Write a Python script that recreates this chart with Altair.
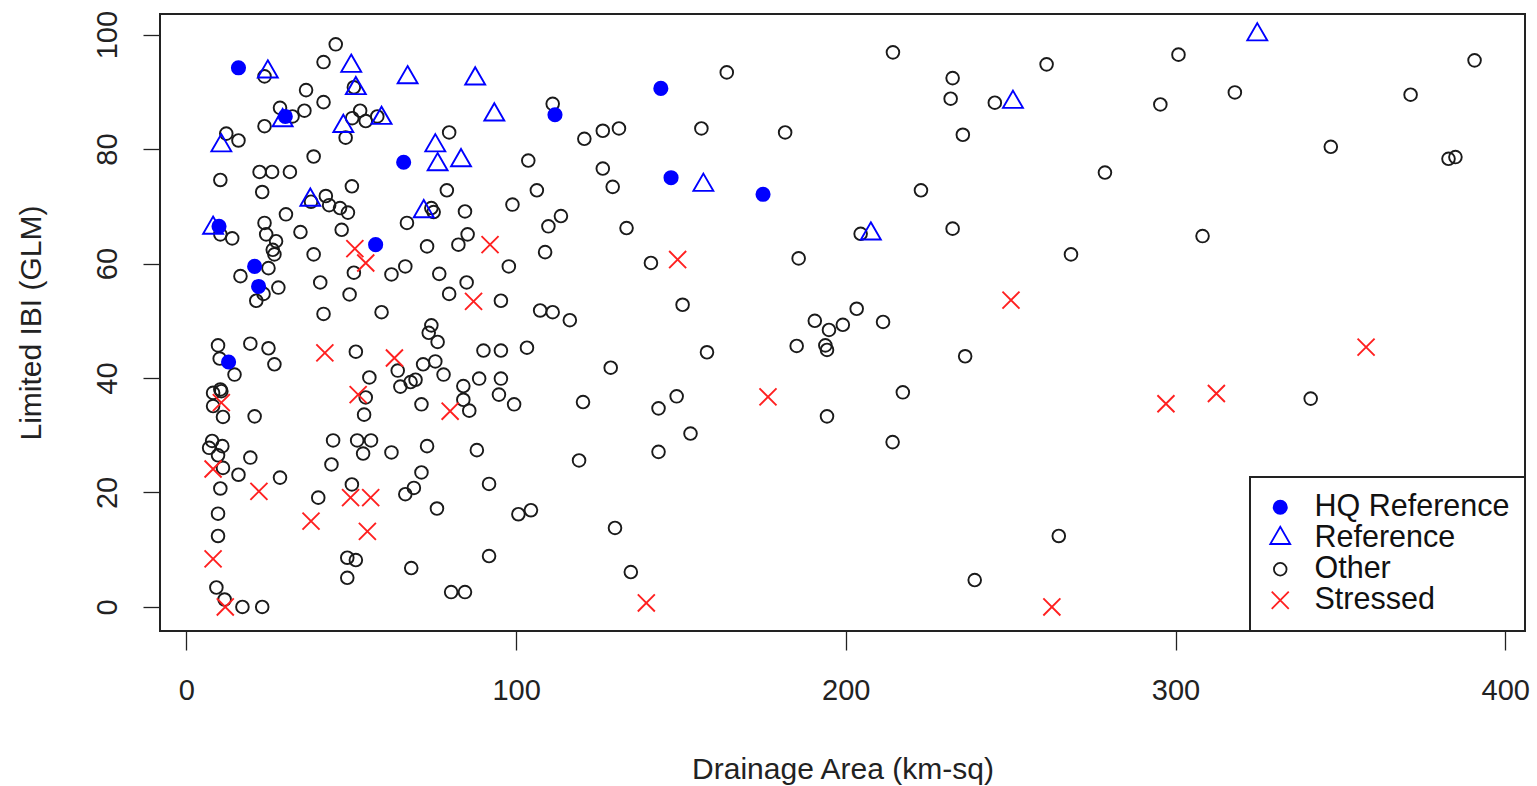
import altair as alt
import pandas as pd

# ---------------- data ----------------
types = ["HQ Reference", "Reference", "Other", "Stressed"]

hq_x = [15.8, 30.0, 9.9, 20.7, 21.9, 12.8, 57.4, 65.9, 111.8, 143.9, 147.0, 174.9]
hq_y = [94.2, 85.7, 66.5, 59.5, 56.0, 42.8, 63.3, 77.7, 86.0, 90.6, 75.0, 72.1]

ref_x = [24.7, 50.0, 51.4, 29.2, 47.6, 10.6, 37.6, 8.1, 67.1, 87.6,
         59.2, 93.4, 75.5, 76.2, 83.3, 72.0, 156.8, 207.6, 250.7, 324.8]
ref_y = [93.5, 94.5, 90.6, 85.0, 84.0, 80.6, 71.1, 66.2, 92.5, 92.3,
         85.4, 86.0, 80.6, 77.3, 78.0, 69.1, 73.7, 65.2, 88.2, 100.0]

str_x = [51.1, 54.4, 42.0, 52.1, 10.6, 8.1, 22.0, 8.1, 11.8, 37.8, 49.8, 55.9, 54.9,
         92.1, 87.1, 63.1, 80.0, 149.0, 176.4, 139.5, 250.1, 297.1, 312.4, 357.8, 262.5]
str_y = [62.6, 60.1, 44.4, 37.1, 35.7, 24.1, 20.2, 8.4, 0.0, 15.0, 19.1, 19.1, 13.2,
         63.3, 53.4, 43.5, 34.2, 60.7, 36.7, 0.7, 53.6, 35.5, 37.3, 45.4, 0.0]

oth_x = [23.7, 45.3, 41.6, 50.8, 36.3, 41.6, 28.4, 32.2, 35.8, 50.3, 52.7, 54.4, 48.3,
         23.7, 12.1, 15.8, 38.6, 22.2, 26.0, 31.4, 10.3, 50.2, 23.0, 37.8, 42.3, 43.3,
         46.6, 49.0, 30.2, 23.7,
         57.9, 111.1, 79.7, 103.7, 79.0, 106.3, 98.9, 74.3, 75.0, 84.5, 66.9, 113.6, 109.8,
         10.3, 13.9, 24.2, 27.2, 26.2, 26.7, 34.6, 38.6, 47.1, 24.9, 16.4, 23.4, 21.2, 27.9,
         40.6, 50.8, 49.5, 41.6, 9.6, 10.1, 14.6, 19.4, 24.9, 26.7, 51.4, 54.4, 53.9, 55.5,
         8.1, 10.3, 10.6, 8.1, 11.1, 20.7,
         73.0, 82.5, 85.3, 108.8, 97.8, 66.4, 62.2, 76.7, 85.0, 79.7, 95.4, 107.3, 111.1,
         116.3, 59.2, 74.3, 73.5, 76.2, 90.1, 95.4, 103.3, 64.1, 71.8, 75.5, 78.0, 64.9,
         68.0, 69.5, 88.8, 95.4, 94.8, 84.0, 84.0, 85.8, 71.3, 99.4,
         7.8, 6.9, 10.9, 9.6, 19.4, 11.1, 15.8, 28.4, 10.3, 9.6, 9.6, 9.1, 11.6, 17.0, 23.0,
         44.5, 51.8, 53.6, 56.0, 44.0, 50.2, 40.0, 48.8, 51.4, 48.8,
         62.2, 73.0, 88.1, 71.3, 66.4, 69.0, 91.8, 76.0, 100.7, 104.5, 91.8, 68.2, 80.3, 84.5,
         214.3, 163.9, 120.7, 126.3, 131.2, 156.2, 181.6, 126.3, 129.3, 133.5, 204.5, 140.9,
         185.7, 150.5, 203.3,
         190.6, 194.9, 199.1, 211.3, 185.1, 193.8, 194.3, 157.9, 128.7, 217.3, 120.3, 148.7,
         143.2, 194.3, 152.9, 214.2, 143.2, 119.1, 130.0, 134.8,
         300.9, 390.7, 260.9, 232.4, 231.8, 245.2, 295.4, 318.0, 371.3, 235.5, 347.1, 382.8,
         384.9, 278.6, 222.8, 232.4, 308.2, 268.3,
         236.2, 341.0, 264.6, 239.1]
oth_y = [92.7, 98.3, 95.2, 90.8, 90.3, 88.2, 87.2, 85.7, 86.7, 85.4, 86.7, 84.9, 82.0,
         84.0, 82.7, 81.5, 78.7, 76.0, 76.0, 76.0, 74.6, 73.5, 72.5, 70.8, 71.8, 70.2,
         69.7, 68.9, 68.6, 67.1,
         85.7, 87.9, 82.9, 78.0, 72.8, 72.8, 70.3, 69.7, 69.0, 69.1, 67.1, 68.3, 66.5,
         65.1, 64.4, 65.1, 63.9, 62.4, 61.6, 65.5, 61.6, 65.9, 59.2, 57.8, 54.7, 53.5, 55.8,
         56.7, 58.4, 54.6, 51.2, 45.7, 43.4, 40.6, 46.0, 45.2, 42.4, 44.6, 36.6, 33.6, 40.1,
         37.4, 38.0, 37.7, 35.1, 33.2, 33.3,
         63.0, 63.3, 65.1, 62.0, 59.5, 59.5, 58.1, 58.2, 56.7, 54.7, 53.5, 51.8, 51.5,
         50.1, 51.5, 49.2, 47.9, 46.3, 44.8, 44.8, 45.3, 41.3, 42.4, 42.9, 40.6, 38.5,
         39.3, 39.7, 39.9, 39.9, 37.1, 38.6, 36.2, 34.3, 35.4, 35.4,
         29.0, 27.8, 28.1, 26.5, 26.1, 24.3, 23.1, 22.6, 20.7, 16.3, 12.4, 3.4, 1.3, 0.0, 0.0,
         29.1, 29.1, 26.8, 29.1, 24.9, 21.4, 19.1, 8.6, 8.2, 5.1,
         27.0, 28.1, 27.4, 23.5, 19.7, 20.8, 21.5, 17.2, 16.2, 16.9, 8.9, 6.8, 2.6, 2.6,
         96.9, 93.4, 81.8, 83.2, 83.6, 83.6, 82.9, 76.6, 73.4, 66.2, 65.2, 60.1,
         60.9, 52.8, 52.1,
         50.0, 48.4, 49.3, 49.8, 45.6, 45.7, 44.9, 44.5, 41.8, 37.5, 35.8, 36.8,
         34.7, 33.3, 30.3, 28.8, 27.1, 25.6, 13.8, 6.1,
         96.5, 95.5, 94.8, 92.4, 88.8, 88.1, 87.8, 89.9, 89.5, 82.5, 80.4, 78.3,
         78.6, 75.9, 72.8, 66.1, 64.8, 61.6,
         43.8, 36.4, 12.4, 4.7]

x_ticks = [0, 100, 200, 300, 400]
y_ticks = [0, 20, 40, 60, 80, 100]

rows = []
for name, xs, ys in [("Other", oth_x, oth_y), ("Reference", ref_x, ref_y),
                     ("HQ Reference", hq_x, hq_y), ("Stressed", str_x, str_y)]:
    for a, b in zip(xs, ys):
        rows.append({"area": a, "ibi": b, "type": name})
df = pd.DataFrame(rows)

# ---------------- styling ----------------
FONT = "Liberation Sans"
X_PATH = "M-1,-1L1,1M1,-1L-1,1"
TRI_PATH = "M0,-1L0.866,0.5L-0.866,0.5Z"
INK = "#222222"

legend = alt.Legend(title=None, orient="bottom-right", offset=0)

chart = alt.Chart(df).mark_point(filled=True, strokeWidth=1.9, opacity=1).encode(
    x=alt.X("area:Q",
            scale=alt.Scale(domain=[-8, 406], nice=False, zero=False),
            axis=alt.Axis(values=x_ticks, format="d", title="Drainage Area (km-sq)",
                          grid=False, domain=False, tickSize=19, tickWidth=1.3,
                          tickColor=INK, labelFontSize=29, labelFont=FONT,
                          labelColor=INK, labelPadding=26, labelFlush=False,
                          titleFont=FONT, titleFontSize=30, titleFontWeight="normal",
                          titleColor=INK, titleBaseline="alphabetic", titleY=147)),
    y=alt.Y("ibi:Q",
            scale=alt.Scale(domain=[-4.2, 103.6], nice=False, zero=False),
            axis=alt.Axis(values=y_ticks, format="d", title="Limited IBI (GLM)",
                          grid=False, domain=False, tickSize=17, tickWidth=1.3,
                          tickColor=INK, labelFontSize=29, labelFont=FONT,
                          labelColor=INK, labelAngle=270, labelAlign="center",
                          labelBaseline="alphabetic", labelPadding=27,
                          labelOverlap=False, labelFlush=False,
                          titleFont=FONT, titleFontSize=30, titleFontWeight="normal",
                          titleColor=INK, titleAngle=270, titleAlign="center",
                          titleBaseline="alphabetic", titleX=-120, titleY=308.5)),
    fill=alt.Fill("type:N",
                  scale=alt.Scale(domain=types,
                                  range=["#0000ff", "transparent", "transparent", "transparent"]),
                  legend=legend),
    stroke=alt.Stroke("type:N",
                      scale=alt.Scale(domain=types,
                                      range=["#0000ff", "#0000ff", "#1a1a1a", "#ff2020"]),
                      legend=legend),
    shape=alt.Shape("type:N",
                    scale=alt.Scale(domain=types,
                                    range=["circle", TRI_PATH, "circle", X_PATH]),
                    legend=legend),
    size=alt.Size("type:N",
                  scale=alt.Scale(type="ordinal", domain=types, range=[175, 529, 160, 290]),
                  legend=legend),
).properties(
    width=1365,
    height=617,
    autosize=alt.AutoSizeParams(type="none"),
    padding={"left": 160, "top": 14, "right": 12, "bottom": 155},
    background="white",
).configure_view(
    stroke=INK, strokeWidth=2
).configure_legend(
    labelFont=FONT, labelFontSize=30.5, labelColor="#111111", labelLimit=500,
    padding=15, rowPadding=-6, labelOffset=19,
    strokeColor=INK, strokeWidth=2, fillColor="white",
    symbolStrokeWidth=1.8,
)

chart.save("out.html", embed_options={"renderer": "svg", "actions": False})
